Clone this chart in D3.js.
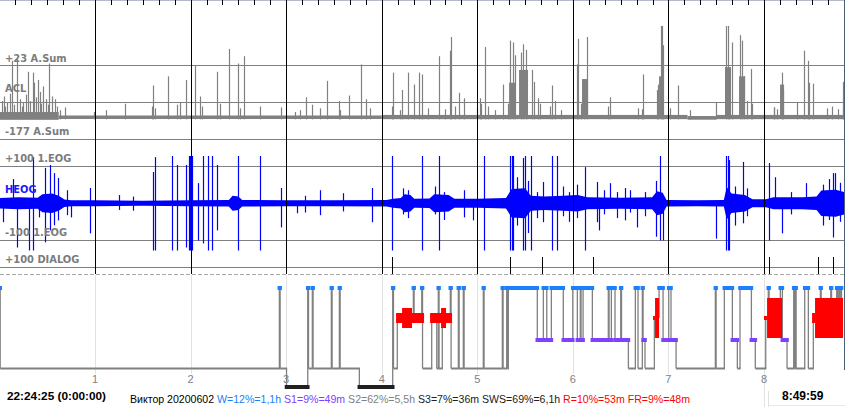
<!DOCTYPE html>
<html><head><meta charset="utf-8">
<script src="https://cdn.jsdelivr.net/npm/d3@7"></script>
<style>
html,body{margin:0;padding:0;background:#fff;overflow:hidden}
svg{display:block}
</style></head><body>
<svg id="chart" width="845" height="407"></svg>
<script>
// ---------------- DATA ----------------
const hourLabels = ["1","2","3","4","5","6","7","8"];
const hourTicks = [1,2,3,4,5,6,7,8];
const endHour = 8.838;

const channelLabels = [
  {text:"+23 A.Sum", ch:"acl", pos:"top"},
  {text:"ACL", ch:"acl", pos:"name"},
  {text:"-177 A.Sum", ch:"acl", pos:"bottom"},
  {text:"+100 1.EOG", ch:"eog", pos:"top"},
  {text:"HEOG", ch:"eog", pos:"name"},
  {text:"-100 1.EOG", ch:"eog", pos:"bottom"},
  {text:"+100 DIALOG", ch:"dialog", pos:"top"}
];

// ACL: larger movement spikes [hour, amplitude above baseline]
const aclSpikes = [[0.048,23],[0.079,16],[0.111,26],[0.128,62],[0.187,64],[0.215,20],[0.250,16],[0.278,25],[0.302,50],[0.348,49],[0.362,38],[0.407,41],[0.424,28],[0.459,34],[0.487,20],[0.522,59],[0.553,23],[0.582,20],[0.686,11],[1.115,8],[1.314,15],[1.610,35],[1.767,45],[1.890,16],[1.952,41],[2.047,57],[2.099,23],[2.280,50],[2.308,15],[2.405,75],[2.500,59],[2.562,67],[2.727,12],[2.946,11],
[3.21,22],[3.27,14],[3.43,40],[3.55,18],[3.66,24],[3.78,58],[3.84,20],
[4.122,49],[4.216,30],[4.279,49],[4.341,36],[4.394,49],[4.425,47],[4.603,67],[4.715,73],[4.722,88],[4.812,27],[4.865,21],[5.029,21],[5.085,77],[5.273,36],[5.343,84],[5.377,82],[5.395,68],[5.455,71],[5.479,80],[5.510,74],[5.570,52],[5.597,39],[5.639,21],[5.785,35],[6.041,58],[6.058,86],[6.117,42],[6.145,88],[6.389,22],[6.738,47],[6.895,36],[6.920,100],[6.937,100],[6.947,79],[7.104,35],[7.498,17],[7.603,100],[7.624,100],[7.634,54],[7.663,82],[7.749,90],[7.770,84],[7.791,45],[7.865,53],[8.106,11],[8.186,49],[8.203,30],[8.343,17],[8.422,73],[8.464,62],[8.475,38],[8.516,37],[8.824,11],[8.830,39]];
// ACL: small twitches [hour, amplitude]
const aclSmall = [[0.027,18],[0.058,12],[0.153,14],[0.236,12],[0.320,18],[0.383,22],[0.435,15],[0.508,14],[0.602,12],[0.634,8],[0.99,6],[1.597,12],[1.628,10],[1.858,14],[2.120,12],[2.517,10],[3.093,6],[3.145,8],[3.355,10],[3.564,8],[3.878,10],[4.108,12],[4.192,8],[4.485,10],[4.663,9],[4.767,12],[4.994,10],[5.036,15],[5.112,12],[5.186,8],[5.317,15],[5.657,15],[5.761,12],[5.814,18],[5.876,8],[6.086,15],[6.363,12],[6.682,10],[6.724,9],[6.881,30],[7.017,10],[7.226,8],[7.823,18],[7.875,15],[8.105,11],[8.137,9],[8.660,10],[8.712,12],[8.775,9]];
// dense activity bursts [start, end, amplitude]
const aclBursts = [[5.333,5.395,38],[5.437,5.531,52],[6.096,6.159,42],[6.902,6.953,45],[7.592,7.655,55],[7.739,7.802,45],[8.168,8.210,36]];
// baseline noise band [start, low, high]
const aclBand = [[0,-2.5,6],[0.62,-1.6,2.2],[4.0,-1.8,2.8],[7.2,-2.4,1.6],[7.5,-1.8,2.8]];

// HEOG: core envelope [hour, amplitude] and spikes [hour, up, down]
const eogEnv = [[0,14],[0.2,16],[0.40,15],[0.45,24],[0.55,26],[0.62,20],[0.68,10],[0.75,8],[1.0,8],[1.5,7],[2.0,8],[2.40,9],[2.44,20],[2.50,18],[2.54,9],[3.0,8],[3.5,8],[4.05,9],[4.12,12],[4.20,14],[4.24,24],[4.30,22],[4.34,12],[4.50,13],[4.55,24],[4.70,22],[4.76,12],[5.0,12],[5.30,14],[5.36,38],[5.50,40],[5.56,20],[5.70,18],[5.90,20],[6.05,22],[6.15,16],[6.50,15],[6.83,16],[6.88,32],[6.94,28],[6.98,9],[7.3,8],[7.58,9],[7.61,44],[7.66,26],[7.80,22],[7.88,11],[8.02,11],[8.10,16],[8.40,16],[8.55,18],[8.60,34],[8.75,36],[8.838,30]];
const eogSpikes = [[0.034,0,51],[0.139,65,0],[0.181,0,119],[0.313,0,130],[0.355,124,130],[0.417,0,38],[0.477,95,105],[0.529,103,73],[0.574,81,59],[0.616,68,46],[0.704,35,32],[0.749,0,38],[0.948,41,81],[1.25,22,18],[1.40,18,20],[1.610,84,130],[1.628,124,130],[1.809,130,130],[1.861,103,130],[1.949,103,119],[1.987,130,130],[1.999,130,130],[2.012,130,130],[2.081,54,100],[2.127,130,108],[2.179,130,130],[2.228,130,130],[2.280,103,73],[2.500,130,130],[2.727,130,130],[2.946,41,65],[3.111,0,27],[3.20,20,25],[3.355,35,32],[3.60,27,22],[3.899,41,51],
[4.111,130,130],[4.22,40,30],[4.27,35,40],[4.425,130,130],[4.56,45,30],[4.603,130,130],[4.65,30,45],[4.865,35,38],[4.959,0,46],[5.074,130,130],[5.343,130,130],[5.359,130,130],[5.374,130,130],[5.42,70,60],[5.476,122,130],[5.500,130,130],[5.53,60,80],[5.559,130,130],[5.62,30,40],[5.691,57,51],[5.785,130,130],[5.831,130,130],[5.90,45,35],[5.96,30,50],[6.04,50,40],[6.128,97,130],[6.250,57,51],[6.274,0,73],[6.33,35,30],[6.389,54,0],[6.46,30,40],[6.546,41,46],[6.60,35,25],[6.669,0,65],[6.75,30,35],[6.87,60,90],[6.912,130,100],[6.947,0,100],[7.498,0,95],[7.603,130,130],[7.619,130,130],[7.634,116,130],[7.70,45,60],[7.778,111,54],[7.82,40,35],[8.056,108,100],[8.116,70,0],[8.186,0,81],[8.28,30,30],[8.440,54,0],[8.62,50,60],[8.68,65,45],[8.720,81,92],[8.744,81,0],[8.80,55,50]];

const dialogEvents = [4.111,5.343,5.681,6.214,8.056,8.569,8.726];

// hypnogram: [start hour, stage]
const hypnogram = [[0,"W"],[0.008,"S2"],[2.929,"W"],[2.937,"S2"],[3.004,"S3"],[3.226,"W"],[3.234,"S2"],[3.274,"W"],[3.282,"S2"],[3.473,"W"],[3.481,"S2"],[3.557,"W"],[3.565,"S2"],[3.766,"S3"],[4.115,"W"],[4.123,"S2"],[4.163,"R"],[4.331,"W"],[4.339,"R"],[4.419,"W"],[4.427,"S2"],[4.523,"R"],[4.576,"S2"],[4.592,"W"],[4.600,"S2"],[4.634,"R"],[4.718,"W"],[4.726,"S2"],[4.802,"W"],[4.810,"S2"],[4.854,"W"],[4.862,"S2"],[5.063,"W"],[5.071,"S2"],[5.262,"W"],[5.270,"S2"],[5.308,"W"],[5.316,"S2"],[5.325,"W"],[5.628,"S1"],[5.691,"W"],[5.727,"S1"],[5.775,"W"],[5.900,"S1"],[5.999,"W"],[6.047,"S1"],[6.078,"W"],[6.086,"S1"],[6.107,"W"],[6.204,"S1"],[6.371,"W"],[6.379,"S1"],[6.403,"W"],[6.441,"S1"],[6.501,"W"],[6.509,"S1"],[6.581,"S2"],[6.654,"W"],[6.682,"S2"],[6.727,"W"],[6.735,"S1"],[6.755,"S2"],[6.853,"R"],[6.902,"W"],[6.944,"S1"],[7.003,"W"],[7.027,"S1"],[7.080,"S2"],[7.491,"W"],[7.499,"S2"],[7.585,"W"],[7.669,"S1"],[7.721,"S2"],[7.749,"W"],[7.868,"S1"],[7.909,"S2"],[8.018,"R"],[8.045,"W"],[8.053,"R"],[8.171,"W"],[8.192,"S1"],[8.241,"S2"],[8.311,"W"],[8.319,"S2"],[8.328,"W"],[8.336,"S2"],[8.426,"W"],[8.464,"S2"],[8.516,"R"],[8.590,"W"],[8.598,"R"],[8.699,"W"],[8.707,"R"],[8.761,"W"],[8.769,"R"],[8.782,"W"],[8.790,"R"],[8.803,"W"],[8.811,"R"]];
// REM density blocks [start, end, intensity 1-4]
const remBlocks = [[4.150,4.443,2],[4.213,4.317,3],[4.506,4.736,2],[4.621,4.673,3],[6.839,6.860,1],[6.860,6.902,4],[8.000,8.032,1],[8.032,8.189,4],[8.503,8.534,2],[8.534,8.827,4]];

const startTime = "22:24:25 (0:00:00)";
const endTime = "8:49:59";
const titleParts = [
  {text:"Виктор 20200602 ", key:"name"},
  {text:"W=12%=1,1h ", key:"W"},
  {text:"S1=9%=49m ", key:"S1"},
  {text:"S2=62%=5,5h ", key:"S2"},
  {text:"S3=7%=36m SWS=69%=6,1h ", key:"S3"},
  {text:"R=10%=53m FR=9%=48m", key:"R"}
];

// ---------------- DRAW ----------------
const svg = d3.select("#chart");
const x = d3.scaleLinear().domain([0, 8]).range([-0.57, 764]);
const px = h => Math.round(x(h)) + 0.5;
const colors = {W:"#1a80ff", S1:"#8040ff", S2:"#808080", S3:"#202020", R:"#ff0000", name:"#000"};

const aclY = d3.scaleLinear().domain([0, 100]).range([117.5, 26]);
const eogY = d3.scaleLinear().domain([-127, 127]).range([250.5, 156]).clamp(true);

// top border
svg.append("line").attr("x1",0).attr("x2",845).attr("y1",0.5).attr("y2",0.5).attr("stroke","#b4bacc");

// channel horizontal lines
const hLines = [65.5,102.5,139.5,166.5,240.5,267.5];
svg.append("g").selectAll("line").data(hLines).join("line")
  .attr("x1",0).attr("x2",844).attr("y1",d=>d).attr("y2",d=>d)
  .attr("stroke","#808080").attr("stroke-width",1);

// hypnogram light grid
svg.append("g").selectAll("line").data(hourTicks).join("line")
  .attr("x1",d=>px(d)).attr("x2",d=>px(d)).attr("y1",275).attr("y2",d=>d===8?407:374)
  .attr("stroke","#e2e2e2");
svg.append("line").attr("x1",768.5).attr("x2",768.5).attr("y1",391).attr("y2",407).attr("stroke","#e2e2e2");
svg.append("line").attr("x1",768).attr("x2",845).attr("y1",405.5).attr("y2",405.5).attr("stroke","#e8e8e8");

// ---- ACL ----
const gA = svg.append("g").attr("fill","#808080").attr("stroke","#808080");
const bandData = aclBand.map((d,i)=>({s:d[0], e: i<aclBand.length-1?aclBand[i+1][0]:endHour, lo:d[1], hi:d[2]}));
gA.selectAll("rect.band").data(bandData).join("rect")
  .attr("x",d=>x(d.s)).attr("width",d=>x(d.e)-x(d.s))
  .attr("y",d=>aclY(d.hi)).attr("height",d=>aclY(d.lo)-aclY(d.hi)).attr("stroke","none");
gA.selectAll("rect.burst").data(aclBursts).join("rect")
  .attr("x",d=>x(d[0])).attr("width",d=>Math.max(1,x(d[1])-x(d[0])))
  .attr("y",d=>aclY(d[2])).attr("height",d=>aclY(0)-aclY(d[2])).attr("stroke","none");
gA.selectAll("line").data(aclSpikes.concat(aclSmall)).join("line")
  .attr("x1",d=>px(d[0])).attr("x2",d=>px(d[0]))
  .attr("y1",d=>aclY(d[1])).attr("y2",aclY(-2))
  .attr("stroke-width",1.2);

// ---- HEOG ----
const gE = svg.append("g").attr("fill","#0000ff").attr("stroke","#0000ff");
gE.append("path").datum(eogEnv)
  .attr("d", d3.area().x(d=>x(d[0])).y0(d=>eogY(-d[1])).y1(d=>eogY(d[1])).curve(d3.curveLinear))
  .attr("stroke","none");
gE.selectAll("line").data(eogSpikes).join("line")
  .attr("x1",d=>px(d[0])).attr("x2",d=>px(d[0]))
  .attr("y1",d=>eogY(d[1])).attr("y2",d=>eogY(-d[2]))
  .attr("stroke-width",1.2);

// ---- DIALOG events ----
svg.append("g").selectAll("line").data(dialogEvents).join("line")
  .attr("x1",d=>px(d)).attr("x2",d=>px(d)).attr("y1",257).attr("y2",274)
  .attr("stroke","#000");

// major hour lines
svg.append("g").selectAll("line").data(hourTicks).join("line")
  .attr("x1",d=>px(d)).attr("x2",d=>px(d)).attr("y1",0).attr("y2",274)
  .attr("stroke","#000");
// 10-minute ticks on top
const minorTicks = d3.range(1, 54).filter(k=>k%6!==0).map(k=>k/6);
svg.append("g").selectAll("line").data(minorTicks).join("line")
  .attr("x1",d=>px(d)).attr("x2",d=>px(d)).attr("y1",0).attr("y2",5)
  .attr("stroke","#000");

// dashed separator
svg.append("line").attr("x1",0).attr("x2",844).attr("y1",274.5).attr("y2",274.5)
  .attr("stroke","#a8a8a8").attr("stroke-dasharray","4,2");

// right border
svg.append("line").attr("x1",844.5).attr("x2",844.5).attr("y1",0).attr("y2",370).attr("stroke","#4a6078");

// channel labels
const labelY = {acl:{top:62,name:92,bottom:135}, eog:{top:162,name:193,bottom:236}, dialog:{top:263}};
svg.append("g").selectAll("text").data(channelLabels).join("text")
  .attr("x",5).attr("y",d=>labelY[d.ch][d.pos])
  .attr("font-family","'DejaVu Sans Condensed','DejaVu Sans',sans-serif")
  .style("font-stretch","condensed")
  .attr("font-weight","bold").attr("font-size",11)
  .attr("fill",d=>d.text==="HEOG"?"#1a1aff":"#7c7c7c")
  .text(d=>d.text);

// ---- Hypnogram ----
const stageY = d3.scaleOrdinal().domain(["W","R","S1","S2","S3"]).range([288,318,340,368.5,387]);
const segs = hypnogram.map((d,i)=>({s:d[0], e:i<hypnogram.length-1?hypnogram[i+1][0]:endHour, st:d[1], prev:i>0?hypnogram[i-1][1]:null}));
const gH = svg.append("g");
gH.selectAll("line.v").data(segs.filter(d=>d.prev)).join("line")
  .attr("x1",d=>x(d.s)).attr("x2",d=>x(d.s))
  .attr("y1",d=>stageY(d.prev)).attr("y2",d=>stageY(d.st))
  .attr("stroke","#808080").attr("stroke-width",1.3);
gH.selectAll("line.s2").data(segs.filter(d=>d.st==="S2")).join("line")
  .attr("x1",d=>x(d.s)).attr("x2",d=>x(d.e)+0.6)
  .attr("y1",stageY("S2")).attr("y2",stageY("S2"))
  .attr("stroke","#808080").attr("stroke-width",2);
gH.selectAll("rect.bar").data(segs.filter(d=>d.st==="W"||d.st==="S1"||d.st==="S3")).join("rect")
  .attr("x",d=>x(d.s)-1.8).attr("width",d=>x(d.e)-x(d.s)+3.6)
  .attr("y",d=>stageY(d.st)-2).attr("height",4)
  .attr("fill",d=>colors[d.st]);
const remH = d3.scaleOrdinal().domain([1,2,3,4]).range([4,10,20,40]);
gH.selectAll("rect.rem").data(remBlocks).join("rect")
  .attr("x",d=>x(d[0])).attr("width",d=>x(d[1])-x(d[0]))
  .attr("y",d=>stageY("R")-remH(d[2])/2).attr("height",d=>remH(d[2]))
  .attr("fill",colors.R);

// hour labels
svg.append("g").selectAll("text").data(hourTicks).join("text")
  .attr("x",d=>x(d)).attr("y",383).attr("text-anchor","middle")
  .attr("font-family","'Liberation Sans',Arial,sans-serif").attr("font-size",11)
  .attr("fill","#808080").text((d,i)=>hourLabels[i]);

// bottom texts
svg.append("text").attr("x",7).attr("y",400)
  .attr("font-family","'Liberation Sans',Arial,sans-serif").attr("font-weight","bold").attr("font-size",11.8)
  .attr("fill","#000").text(startTime);
svg.append("text").attr("x",782).attr("y",400)
  .attr("font-family","'Liberation Sans',Arial,sans-serif").attr("font-weight","bold").attr("font-size",12)
  .attr("fill","#000").text(endTime);
const title = svg.append("text").attr("x",130).attr("y",403)
  .attr("font-family","'Liberation Sans',Arial,sans-serif").attr("font-size",11.3)
  .attr("textLength",560).attr("lengthAdjust","spacingAndGlyphs")
  .style("white-space","pre");
title.selectAll("tspan").data(titleParts).join("tspan")
  .attr("fill",d=>colors[d.key]).text(d=>d.text);
</script>
</body></html>
